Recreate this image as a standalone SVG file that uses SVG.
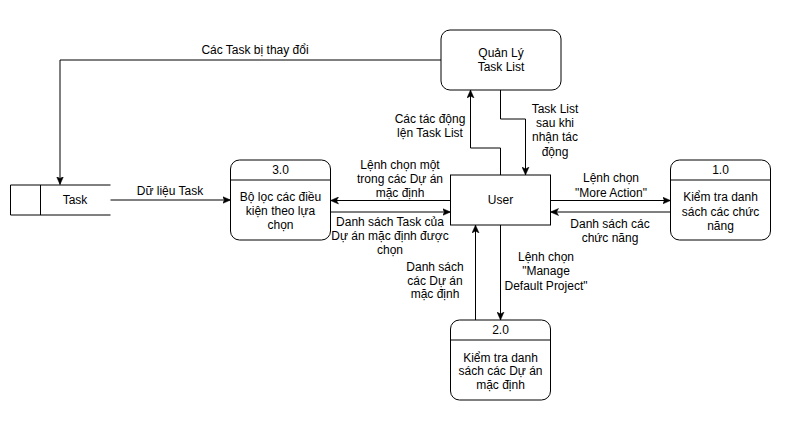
<svg xmlns="http://www.w3.org/2000/svg" width="801" height="431" viewBox="0 0 801 431">
<defs>
<style>
.box{fill:#fff;stroke:#000;stroke-width:1}
.ln{fill:none;stroke:#000;stroke-width:1}
.edge{fill:none;stroke:#000;stroke-width:1;marker-end:url(#arr)}
text{font-family:"Liberation Sans",Arial,sans-serif;font-size:12px;fill:#000;text-anchor:middle}
</style>
<marker id="arr" viewBox="0 0 8 8" refX="8" refY="4" markerWidth="8" markerHeight="8" orient="auto" markerUnits="userSpaceOnUse">
<path d="M0,0.5 L8,4 L0,7.5 L2,4 z" fill="#000" stroke="#000" stroke-width="0.5"/>
</marker>
</defs>
<rect width="801" height="431" fill="#fff"/>

<g id="connectors">
<path class="edge" d="M441,60 H60 V184.5"/>
<text x="255" y="54">Các Task bị thay đổi</text>
<path class="edge" d="M110.5,200 H230.5"/>
<text x="170" y="195">Dữ liệu Task</text>
<path class="edge" d="M500.5,175 V148 H470.5 V90"/>
<text x="430" y="123">Các tác động</text>
<text x="430" y="137">lện Task List</text>
<path class="edge" d="M500.5,90 V119 H525.5 V175"/>
<text x="555" y="113">Task List</text>
<text x="555" y="127">sau khi</text>
<text x="555" y="141">nhận tác</text>
<text x="555" y="156">động</text>
<path class="edge" d="M450.5,200.5 H330.5"/>
<text x="400" y="169">Lệnh chọn một</text>
<text x="400" y="183">trong các Dự án</text>
<text x="400" y="197">mặc định</text>
<path class="edge" d="M330.5,212 H450.5"/>
<text x="390" y="226">Danh sách Task của</text>
<text x="390" y="240">Dự án mặc định được</text>
<text x="390" y="254">chọn</text>
<path class="edge" d="M550.5,200.5 H670.5"/>
<text x="611" y="182">Lệnh chọn</text>
<text x="611" y="197">"More Action"</text>
<path class="edge" d="M670.5,212 H550.5"/>
<text x="610" y="228">Danh sách các</text>
<text x="610" y="242">chức năng</text>
<path class="edge" d="M475.5,320 V225"/>
<text x="435" y="271">Danh sách</text>
<text x="435" y="285">các Dự án</text>
<text x="435" y="298">mặc định</text>
<path class="edge" d="M500.5,225 V320"/>
<text x="546" y="261">Lệnh chọn</text>
<text x="546" y="275">"Manage</text>
<text x="546" y="290">Default Project"</text>
</g>

<g id="quanly">
<rect class="box" x="441" y="30" width="120" height="60" rx="9"/>
<text x="501" y="57">Quản Lý</text>
<text x="501" y="71">Task List</text>
</g>

<g id="user">
<rect class="box" x="450.5" y="175" width="100" height="50"/>
<text x="500.5" y="204">User</text>
</g>

<g id="task">
<path class="ln" d="M110.5,185 H10.5 V215 H110.5 M40.5,185 V215"/>
<text x="75" y="204">Task</text>
</g>

<g id="p3">
<rect class="box" x="230.5" y="160" width="100" height="80" rx="9"/>
<path class="ln" d="M230.5,180 H330.5"/>
<text x="280.5" y="174">3.0</text>
<text x="280.5" y="201">Bộ lọc các điều</text>
<text x="280.5" y="215">kiện theo lựa</text>
<text x="280.5" y="229">chọn</text>
</g>

<g id="p1">
<rect class="box" x="670.5" y="160" width="100" height="80" rx="9"/>
<path class="ln" d="M670.5,180 H770.5"/>
<text x="720.5" y="174">1.0</text>
<text x="720.5" y="201">Kiểm tra danh</text>
<text x="720.5" y="216">sách các chức</text>
<text x="720.5" y="230">năng</text>
</g>

<g id="p2">
<rect class="box" x="450.5" y="320" width="100" height="80" rx="9"/>
<path class="ln" d="M450.5,340 H550.5"/>
<text x="500.5" y="334">2.0</text>
<text x="500.5" y="362">Kiểm tra danh</text>
<text x="500.5" y="375">sách các Dự án</text>
<text x="500.5" y="389">mặc định</text>
</g>
</svg>
